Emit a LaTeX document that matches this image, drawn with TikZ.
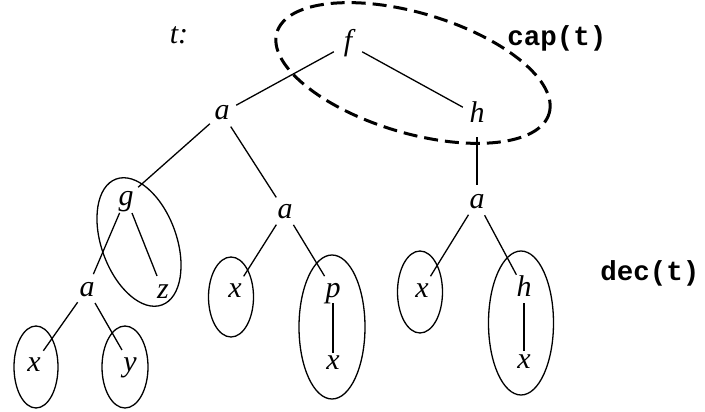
\documentclass[tikz,border=0pt]{standalone}
\usepackage{fontspec}
\setmainfont{Liberation Serif}
\setmonofont{Liberation Mono}
\usetikzlibrary{shapes.geometric}
\begin{document}
\begin{tikzpicture}[x=1pt,y=-1pt,
  lbl/.style={circle, inner sep=0pt, minimum size=32pt,
    font=\fontsize{30}{32}\selectfont\itshape, text height=14pt, text depth=0pt},
  tag/.style={inner sep=0pt, font=\fontsize{27.5}{30}\selectfont\ttfamily\bfseries},
  branch/.style={line width=1.3pt},
  ring/.style={draw, ellipse, line width=1.3pt, inner sep=0pt},
  capring/.style={draw, ellipse, line width=3pt, dash pattern=on 14pt off 7pt, inner sep=0pt}]
\useasboundingbox (0,0) rectangle (705,412);
% rings
\node[capring, minimum width=284pt, minimum height=120pt, rotate=-16.6] (rcap) at (413,73) {};
\node[ring, minimum width=75pt, minimum height=134pt, rotate=20] (rgz) at (139,242) {};
\node[ring, minimum width=44pt, minimum height=82pt] (rx1) at (36,367) {};
\node[ring, minimum width=46pt, minimum height=82pt] (ry1) at (125,367) {};
\node[ring, minimum width=45pt, minimum height=80pt] (rx2) at (231,297) {};
\node[ring, minimum width=66pt, minimum height=144pt] (rpx) at (332,327) {};
\node[ring, minimum width=45pt, minimum height=82pt] (rx4) at (420,292) {};
\node[ring, minimum width=65pt, minimum height=144pt] (rhx) at (521,323) {};
% labels
\node[lbl] (t) at (179,37) {t:};
\node[lbl] (f) at (348,44) {f};
\node[lbl] (a1) at (222,113) {a};
\node[lbl] (h1) at (477,115) {h};
\node[lbl] (g) at (126,198) {g};
\node[lbl] (a3) at (285,211) {a};
\node[lbl] (a4) at (477,201) {a};
\node[lbl] (a2) at (87,289) {a};
\node[lbl] (z) at (163,291) {z};
\node[lbl] (x2) at (235,290) {x};
\node[lbl] (p) at (333,290) {p};
\node[lbl] (x4) at (422,290) {x};
\node[lbl] (h2) at (524,289) {h};
\node[lbl] (x1) at (34,364) {x};
\node[lbl] (y1) at (130,364) {y};
\node[lbl] (x3) at (333,362) {x};
\node[lbl] (x5) at (524,361) {x};
\node[tag] (cap) at (557,38) {cap(t)};
\node[tag] (dec) at (650,273) {dec(t)};
% branches
\draw[branch] (f) -- (a1);
\draw[branch] (f) -- (h1);
\draw[branch] (a1) -- (g);
\draw[branch] (a1) -- (a3);
\draw[branch] (g) -- (a2);
\draw[branch] (g) -- (z);
\draw[branch] (a2) -- (x1);
\draw[branch] (a2) -- (y1);
\draw[branch] (a3) -- (x2);
\draw[branch] (a3) -- (p);
\draw[branch, shorten <=-3pt, shorten >=-7pt] (p) -- (x3);
\draw[branch, shorten <=6pt] (h1) -- (a4);
\draw[branch] (a4) -- (x4);
\draw[branch] (a4) -- (h2);
\draw[branch, shorten <=-2pt, shorten >=-6pt] (h2) -- (x5);
\end{tikzpicture}
\end{document}
